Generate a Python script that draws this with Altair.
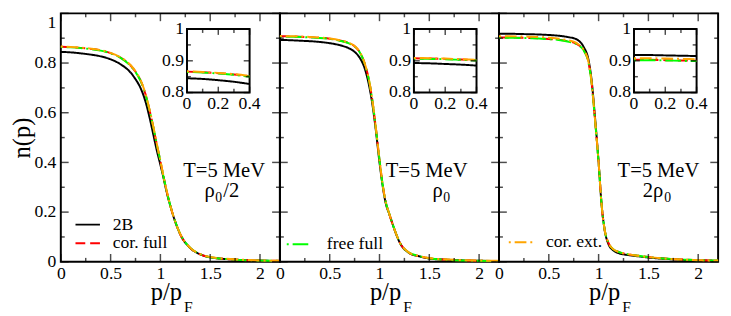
import altair as alt
import pandas as pd

# ---------------- data ----------------
P = [0.0, 0.1, 0.2, 0.3, 0.4, 0.5, 0.6, 0.7, 0.75, 0.8, 0.85, 0.9, 0.93, 0.96, 1.0,
     1.03, 1.06, 1.1, 1.15, 1.2, 1.3, 1.4, 1.5, 1.7, 1.9, 2.2]

SERIES = ["2B", "cor. full", "free full", "cor. ext."]
COLORS = ["#000000", "#ff0000", "#00ff00", "#ffa500"]
DASHES = [[1, 0], [10, 5], [2, 4, 16, 4], [2, 4, 12, 4]]

# panel 1 : T=5 MeV, rho0/2
N1_2B   = [0.845, 0.843, 0.839, 0.834, 0.827, 0.815, 0.795, 0.762, 0.735, 0.700, 0.645, 0.565, 0.510, 0.455, 0.390,
           0.340, 0.285, 0.225, 0.160, 0.110, 0.055, 0.030, 0.018, 0.010, 0.006, 0.003]
N1_CORF = [0.866, 0.864, 0.861, 0.857, 0.851, 0.840, 0.822, 0.790, 0.765, 0.730, 0.675, 0.595, 0.540, 0.480, 0.405,
           0.345, 0.290, 0.225, 0.160, 0.110, 0.055, 0.030, 0.018, 0.010, 0.006, 0.004]
N1_FREE = [0.865, 0.863, 0.860, 0.856, 0.850, 0.839, 0.821, 0.789, 0.764, 0.729, 0.674, 0.594, 0.540, 0.480, 0.405,
           0.345, 0.290, 0.226, 0.161, 0.111, 0.056, 0.031, 0.018, 0.010, 0.006, 0.004]
N1_CORE = [0.867, 0.865, 0.862, 0.858, 0.852, 0.841, 0.823, 0.792, 0.767, 0.732, 0.677, 0.597, 0.542, 0.482, 0.407,
           0.346, 0.291, 0.226, 0.161, 0.111, 0.056, 0.031, 0.019, 0.011, 0.007, 0.004]

# panel 2 : T=5 MeV, rho0
N2_2B   = [0.893, 0.892, 0.890, 0.888, 0.885, 0.880, 0.872, 0.858, 0.845, 0.822, 0.780, 0.700, 0.630, 0.540, 0.400,
           0.310, 0.240, 0.190, 0.130, 0.080, 0.035, 0.022, 0.013, 0.008, 0.005, 0.003]
N2_CORF = [0.908, 0.907, 0.906, 0.904, 0.902, 0.898, 0.891, 0.879, 0.868, 0.845, 0.800, 0.720, 0.645, 0.550, 0.410,
           0.315, 0.245, 0.190, 0.130, 0.080, 0.035, 0.022, 0.014, 0.008, 0.005, 0.003]
N2_FREE = [0.907, 0.906, 0.905, 0.903, 0.901, 0.897, 0.890, 0.878, 0.867, 0.844, 0.799, 0.719, 0.644, 0.549, 0.410,
           0.315, 0.245, 0.191, 0.131, 0.081, 0.036, 0.023, 0.014, 0.008, 0.005, 0.003]
N2_CORE = [0.909, 0.908, 0.907, 0.905, 0.903, 0.899, 0.892, 0.880, 0.869, 0.846, 0.801, 0.721, 0.646, 0.551, 0.411,
           0.316, 0.246, 0.191, 0.131, 0.081, 0.036, 0.023, 0.015, 0.009, 0.006, 0.004]

# panel 3 : T=5 MeV, 2 rho0
N3_2B   = [0.918, 0.918, 0.917, 0.916, 0.915, 0.913, 0.910, 0.904, 0.900, 0.890, 0.865, 0.810, 0.730, 0.600, 0.400,
           0.230, 0.130, 0.070, 0.045, 0.035, 0.027, 0.022, 0.017, 0.011, 0.007, 0.004]
N3_CORF = [0.903, 0.903, 0.902, 0.901, 0.900, 0.897, 0.894, 0.887, 0.882, 0.872, 0.852, 0.800, 0.720, 0.590, 0.400,
           0.230, 0.130, 0.075, 0.050, 0.040, 0.030, 0.024, 0.019, 0.012, 0.008, 0.005]
N3_FREE = [0.902, 0.902, 0.901, 0.900, 0.899, 0.896, 0.893, 0.886, 0.881, 0.871, 0.851, 0.799, 0.719, 0.589, 0.400,
           0.230, 0.131, 0.076, 0.050, 0.040, 0.030, 0.024, 0.019, 0.012, 0.008, 0.005]
N3_CORE = [0.908, 0.908, 0.907, 0.906, 0.905, 0.902, 0.898, 0.891, 0.886, 0.875, 0.854, 0.802, 0.722, 0.591, 0.401,
           0.231, 0.131, 0.076, 0.050, 0.040, 0.030, 0.024, 0.019, 0.012, 0.008, 0.005]

PANEL_DATA = [[N1_2B, N1_CORF, N1_FREE, N1_CORE],
              [N2_2B, N2_CORF, N2_FREE, N2_CORE],
              [N3_2B, N3_CORF, N3_FREE, N3_CORE]]

X_DOMAIN = [0, 2.2]
Y_DOMAIN = [0, 1]
X_MAJOR = [0, 0.5, 1, 1.5, 2]
X_MINOR = [0.25, 0.75, 1.25, 1.75]
Y_MAJOR = [0, 0.2, 0.4, 0.6, 0.8, 1]
Y_MINOR = [0.1, 0.3, 0.5, 0.7, 0.9]

INSET_X = [0, 0.4]
INSET_Y = [0.8, 1.0]
INSET_X_MAJOR = [0, 0.2, 0.4]
INSET_X_MINOR = [0.1, 0.3]
INSET_Y_MAJOR = [0.8, 0.9, 1.0]
INSET_Y_MINOR = [0.85, 0.95]
INSET_X_LABELS = ["0", "0.2", "0.4"]
INSET_Y_LABELS = ["0.8", "0.9", "1"]

# ---------------- layout ----------------
FONT = "Liberation Serif, DejaVu Serif, Times New Roman, serif"
WIDTHS = [224, 224, 224]
H = 254
INSET_PIX = [(129, 193), (137, 201), (138, 202)]
INSET_TOP, INSET_BOT = 16, 81
LBL = 18      # tick label size
ANN = 21      # annotation size
TIT = 25      # axis title size

ONE = pd.DataFrame({"k": [0]})


def txt(s, x, y, size, align="left", baseline="alphabetic"):
    return alt.Chart(ONE).mark_text(text=s, font=FONT, fontSize=size, align=align,
                                    baseline=baseline, color="black").encode(
        x=alt.value(x), y=alt.value(y))


def leg(x0, x1, y, i, label, tx):
    line = alt.Chart(ONE).mark_rule(color=COLORS[i], strokeDash=DASHES[i], strokeWidth=2).encode(
        x=alt.value(x0), x2=alt.value(x1), y=alt.value(y))
    return [line, txt(label, tx, y, LBL, baseline="middle")]


def panel(idx):
    W = WIDTHS[idx]
    ix0, ix1 = INSET_PIX[idx]
    xs = alt.Scale(domain=X_DOMAIN, nice=False, zero=False)
    ys = alt.Scale(domain=Y_DOMAIN, nice=False, zero=False)

    # linear maps from inset coordinates into the main data space
    xspan = X_DOMAIN[1] - X_DOMAIN[0]
    ax0 = ix0 / W * xspan
    axk = (ix1 - ix0) / W * xspan / (INSET_X[1] - INSET_X[0])
    ay0 = 1 - INSET_BOT / H
    ayk = (INSET_BOT - INSET_TOP) / H / (INSET_Y[1] - INSET_Y[0])

    def ixe(f):
        return f"{ax0} + (datum.{f} - {INSET_X[0]}) * {axk}"

    def iye(f):
        return f"{ay0} + (datum.{f} - {INSET_Y[0]}) * {ayk}"

    XA = alt.Axis(values=X_MAJOR, format="~g", ticks=False, domain=False, grid=False,
                  labelPadding=3, labelFlush=False, labelOverlap=False, title=None,
                  labelFont=FONT, labelFontSize=LBL)
    if idx == 0:
        YA = alt.Axis(values=Y_MAJOR, format="~g", ticks=False, domain=False, grid=False,
                      labelPadding=5, labelFlush=False, labelOverlap=False, title="n(p)",
                      labelBaseline={"condition": {"test": "datum.value == 1", "value": "top"},
                                     "value": "middle"},
                      labelFont=FONT, labelFontSize=LBL, titleFont=FONT,
                      titleFontSize=TIT, titleFontWeight="normal", titlePadding=0)
    else:
        YA = alt.Axis(values=Y_MAJOR, labels=False, ticks=False, domain=False, grid=False,
                      title=None)

    def X(f):
        return alt.X(f, scale=xs, axis=XA)

    def Y(f):
        return alt.Y(f, scale=ys, axis=YA)

    layers = []
    # main curves
    for i, vals in enumerate(PANEL_DATA[idx]):
        df = pd.DataFrame({"p": P, "n": vals})
        layers.append(alt.Chart(df).mark_line(color=COLORS[i], strokeDash=DASHES[i], strokeWidth=2,
                                              interpolate="monotone").encode(
            x=X("p:Q"), y=Y("n:Q")))

    # main inward ticks (frame comes from the view stroke)
    for vals, size in ((X_MAJOR, 8), (X_MINOR, 4)):
        d = pd.DataFrame({"p": vals})
        for yp in (H - size / 2, size / 2):
            layers.append(alt.Chart(d).mark_tick(orient="vertical", size=size, thickness=1.5,
                                                 color="black").encode(
                x=X("p:Q"), y=alt.value(yp)))
    for vals, size in ((Y_MAJOR, 8), (Y_MINOR, 4)):
        d = pd.DataFrame({"n": vals})
        for xp in (size / 2, W - size / 2):
            layers.append(alt.Chart(d).mark_tick(orient="horizontal", size=size, thickness=1.5,
                                                 color="black").encode(
                y=Y("n:Q"), x=alt.value(xp)))

    # inset frame
    rect_df = pd.DataFrame({"a": [INSET_X[0]], "b": [INSET_X[1]],
                            "c": [INSET_Y[0]], "d": [INSET_Y[1]]})
    layers.append(alt.Chart(rect_df).transform_calculate(
        xa=ixe("a"), xb=ixe("b"), yc=iye("c"), yd=iye("d")
    ).mark_rect(fill="white", stroke="black", strokeWidth=2).encode(
        x=X("xa:Q"), x2="xb:Q", y=Y("yc:Q"), y2="yd:Q"))

    # inset curves
    for i, vals in enumerate(PANEL_DATA[idx]):
        df = pd.DataFrame({"p": P, "n": vals})
        df = df[df["p"] <= INSET_X[1] + 1e-9]
        layers.append(alt.Chart(df).transform_calculate(
            xi=ixe("p"), yi=iye("n")
        ).mark_line(color=COLORS[i], strokeDash=DASHES[i], strokeWidth=2,
                    interpolate="monotone").encode(x=X("xi:Q"), y=Y("yi:Q")))

    # inset ticks
    for vals, size in ((INSET_X_MAJOR, 6), (INSET_X_MINOR, 4)):
        d = pd.DataFrame({"p": vals})
        for yp in (INSET_BOT - size / 2, INSET_TOP + size / 2):
            layers.append(alt.Chart(d).transform_calculate(xi=ixe("p")).mark_tick(
                orient="vertical", size=size, thickness=1.5, color="black").encode(
                x=X("xi:Q"), y=alt.value(yp)))
    for vals, size in ((INSET_Y_MAJOR, 6), (INSET_Y_MINOR, 4)):
        d = pd.DataFrame({"n": vals})
        for xp in (ix0 + size / 2, ix1 - size / 2):
            layers.append(alt.Chart(d).transform_calculate(yi=iye("n")).mark_tick(
                orient="horizontal", size=size, thickness=1.5, color="black").encode(
                y=Y("yi:Q"), x=alt.value(xp)))

    # inset labels
    dl = pd.DataFrame({"p": INSET_X_MAJOR, "t": INSET_X_LABELS})
    layers.append(alt.Chart(dl).transform_calculate(xi=ixe("p")).mark_text(
        font=FONT, fontSize=LBL, baseline="top", align="center", color="black").encode(
        x=X("xi:Q"), y=alt.value(INSET_BOT + 3), text="t:N"))
    dl = pd.DataFrame({"n": INSET_Y_MAJOR, "t": INSET_Y_LABELS})
    layers.append(alt.Chart(dl).transform_calculate(yi=iye("n")).mark_text(
        font=FONT, fontSize=LBL, baseline="middle", align="right", color="black").encode(
        y=Y("yi:Q"), x=alt.value(ix0 - 3), text="t:N"))

    # annotations
    if idx == 0:
        layers += [txt("T=5 MeV", 167, 167, ANN, align="center"),
                   txt("ρ", 147, 188, ANN), txt("0", 158, 193, 14), txt("/2", 166, 188, ANN)]
        layers += leg(15, 40, 216, 0, "2B", 53)
        layers += leg(15, 40, 235, 1, "cor. full", 53)
    elif idx == 1:
        layers += [txt("T=5 MeV", 150, 167, ANN, align="center"),
                   txt("ρ", 156, 188, ANN), txt("0", 167, 193, 14)]
        layers += leg(7, 31, 236, 2, "free full", 48)
    else:
        layers += [txt("T=5 MeV", 163, 167, ANN, align="center"),
                   txt("2ρ", 147, 188, ANN), txt("0", 169, 193, 14)]
        layers += leg(10, 37, 234, 3, "cor. ext.", 48)

    # x title p/p_F
    layers += [txt("p/p", W / 2 - 20, 293, TIT), txt("F", W / 2 + 14, 305, 16)]

    return alt.layer(*layers).properties(width=W, height=H)


chart = alt.hconcat(panel(0), panel(1), panel(2), spacing=0, bounds="flush").properties(
    padding={"left": 0, "top": 0, "right": 0, "bottom": 0}
).configure(font=FONT).configure_axis(
    labelFont=FONT, titleFont=FONT, labelFontSize=LBL, titleFontSize=TIT,
    labelColor="black", titleColor="black", tickColor="black"
).configure_view(stroke="black", strokeWidth=2)

chart.save("out.html", embed_options={"renderer": "svg", "actions": False})
